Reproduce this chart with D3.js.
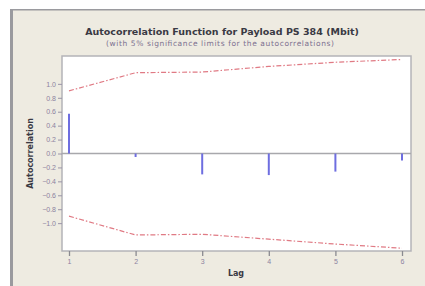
<!DOCTYPE html>
<html>
<head>
<meta charset="utf-8">
<script src="https://cdn.jsdelivr.net/npm/d3@7"></script>
<style>
  body { margin: 0; background: #fff; }
  svg { display: block; font-family: "DejaVu Sans", Verdana, sans-serif; }
</style>
</head>
<body>
<div id="chart"></div>
<script>
let totalWidth = 425, totalHeight = 286;
let margin = { top: 56, right: 14, bottom: 35, left: 62 };

// chart data
const lags = [1, 2, 3, 4, 5, 6];
const acf = [0.57, -0.05, -0.30, -0.31, -0.26, -0.10];
const upperLimit = [0.90, 1.16, 1.17, 1.25, 1.31, 1.35];
const lowerLimit = [-0.90, -1.17, -1.16, -1.23, -1.30, -1.36];
const yTicks = [1.0, 0.8, 0.6, 0.4, 0.2, 0.0, -0.2, -0.4, -0.6, -0.8, -1.0];

const svg = d3.select("#chart")
  .append("svg")
  .attr("width", totalWidth)
  .attr("height", totalHeight);

// window background + border
svg.append("rect")
  .attr("x", 0).attr("y", 0)
  .attr("width", totalWidth).attr("height", totalHeight)
  .attr("fill", "#fff");
svg.append("rect")
  .attr("x", 10).attr("y", 9)
  .attr("width", totalWidth - 10).attr("height", totalHeight - 9)
  .attr("fill", "#eeebe1");
svg.append("rect")
  .attr("x", 10).attr("y", 9)
  .attr("width", 3).attr("height", totalHeight - 9)
  .attr("fill", "#9a9a9e");
svg.append("rect")
  .attr("x", 10).attr("y", 9)
  .attr("width", totalWidth - 10).attr("height", 1.5)
  .attr("fill", "#9a9a9e");

// lag 1 sits at ~69 and lag 6 at ~402
const x = d3.scaleLinear()
  .domain([1 - (69 - margin.left) / 66.6, 6 + (totalWidth - margin.right - 402) / 66.6])
  .range([margin.left, totalWidth - margin.right]);

const y = d3.scaleLinear()
  .domain([-1.4, 1.4])
  .range([totalHeight - margin.bottom, margin.top]);

// plot area
svg.append("rect")
  .attr("x", margin.left)
  .attr("y", margin.top)
  .attr("width", totalWidth - margin.left - margin.right)
  .attr("height", totalHeight - margin.top - margin.bottom)
  .attr("fill", "#fff")
  .attr("stroke", "#b4b4b8")
  .attr("stroke-width", 1.5);

// axes
const yAxis = svg.append("g")
  .attr("transform", `translate(${margin.left}, 0)`)
  .call(d3.axisLeft(y).tickValues(yTicks).tickFormat(d3.format(".1f")).tickSize(4).tickPadding(2));
yAxis.select(".domain").remove();
yAxis.selectAll("line").attr("stroke", "#9a94a8");
yAxis.selectAll("text")
  .attr("fill", "#8c82a0")
  .attr("font-size", "7px");

const xAxis = svg.append("g")
  .attr("transform", `translate(0, ${totalHeight - margin.bottom})`)
  .call(d3.axisBottom(x).tickValues(lags).tickFormat(d3.format("d")).tickSize(5).tickPadding(3));
xAxis.select(".domain").remove();
xAxis.selectAll("line").attr("stroke", "#8a8a90").attr("stroke-width", 1.3);
xAxis.selectAll("text")
  .attr("fill", "#8c82a0")
  .attr("font-size", "7px");

// zero line
svg.append("line")
  .attr("x1", margin.left).attr("x2", totalWidth - margin.right)
  .attr("y1", y(0)).attr("y2", y(0))
  .attr("stroke", "#a8a8ac")
  .attr("stroke-width", 1.3);

// significance limits
const limitLine = d3.line()
  .x((d, i) => x(lags[i]))
  .y(d => y(d));

[upperLimit, lowerLimit].forEach(limit => {
  svg.append("path")
    .datum(limit)
    .attr("d", limitLine)
    .attr("fill", "none")
    .attr("stroke", "#e07a84")
    .attr("stroke-width", 1.2)
    .attr("stroke-dasharray", "5,2,1.5,2");
});

// acf bars
svg.selectAll(".acf")
  .data(lags)
  .enter()
  .append("line")
  .attr("class", "acf")
  .attr("x1", d => x(d)).attr("x2", d => x(d))
  .attr("y1", y(0))
  .attr("y2", (d, i) => y(acf[i]))
  .attr("stroke", "#6e6ee0")
  .attr("stroke-width", 2);

// titles
svg.append("text")
  .attr("x", 222)
  .attr("y", 35)
  .attr("text-anchor", "middle")
  .attr("font-size", "9.5px")
  .attr("font-weight", "bold")
  .attr("fill", "#3a3a44")
  .text("Autocorrelation Function for Payload PS 384 (Mbit)");

svg.append("text")
  .attr("x", 220)
  .attr("y", 46)
  .attr("text-anchor", "middle")
  .attr("font-size", "7.5px")
  .attr("textLength", 228)
  .attr("fill", "#7c7090")
  .text("(with 5% significance limits for the autocorrelations)");

svg.append("text")
  .attr("x", 236)
  .attr("y", 276)
  .attr("text-anchor", "middle")
  .attr("font-size", "8px")
  .attr("font-weight", "bold")
  .attr("fill", "#3a3a44")
  .text("Lag");

svg.append("text")
  .attr("transform", `translate(33, ${y(0)}) rotate(-90)`)
  .attr("text-anchor", "middle")
  .attr("font-size", "8px")
  .attr("font-weight", "bold")
  .attr("fill", "#3a3a44")
  .text("Autocorrelation");
</script>
</body>
</html>
